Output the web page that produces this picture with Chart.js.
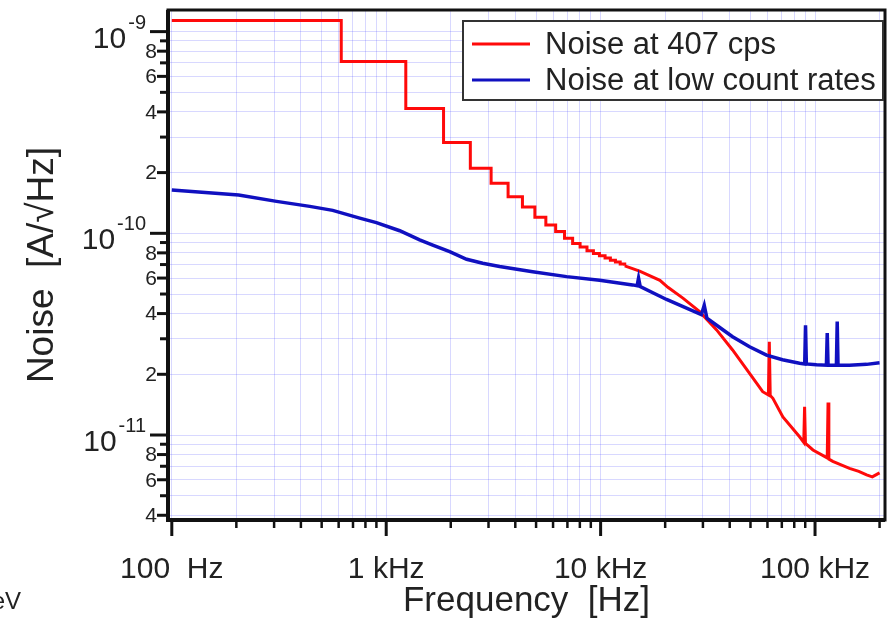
<!DOCTYPE html>
<html>
<head>
<meta charset="utf-8">
<script src="https://cdn.jsdelivr.net/npm/chart.js@4"></script>
<style>
  html, body { margin: 0; padding: 0; background: #fff; }
  canvas { display: block; }
</style>
</head>
<body>
<canvas id="noiseChart" width="890" height="618"></canvas>
<script>
// red: staircase part (bin start frequency, Hz) and noise in A/sqrt(Hz)
const redStepFreq = [100, 617, 1234, 1851, 2468, 3085, 3702, 4319, 4936, 5553, 6170,
  6787, 7404, 8021, 8638, 9255, 9872, 10489, 11106, 11723, 12340, 12957];
const redStepNoise = [1.135e-9, 7.1e-10, 4.16e-10, 2.82e-10, 2.10e-10, 1.77e-10, 1.52e-10,
  1.35e-10, 1.20e-10, 1.10e-10, 1.02e-10, 9.45e-11, 8.9e-11, 8.55e-11, 8.2e-11, 7.95e-11,
  7.75e-11, 7.55e-11, 7.35e-11, 7.2e-11, 7.05e-11, 6.9e-11];

// red: continuous high-frequency part
const redTailFreq = [12957, 15200, 18900, 20600, 24200, 28960, 34750, 41250, 49500, 57000,
  60600, 61200, 61800, 63600, 70800, 84700, 88600, 89400, 90200, 97800, 114000, 115000,
  116000, 121000, 144800, 160000, 174000, 185000, 195000, 200000];
const redTailNoise = [6.9e-11, 6.5e-11, 5.85e-11, 5.4e-11, 4.77e-11, 4.09e-11, 3.32e-11,
  2.64e-11, 2.02e-11, 1.64e-11, 1.58e-11, 2.9e-11, 1.57e-11, 1.52e-11, 1.23e-11, 9.8e-12,
  9.2e-12, 1.38e-11, 9.1e-12, 8.43e-12, 7.7e-12, 1.45e-11, 7.6e-12, 7.4e-12, 6.83e-12,
  6.6e-12, 6.34e-12, 6.2e-12, 6.4e-12, 6.49e-12];

// blue: low count rates
const blueFreq = [100, 205, 308, 440, 563, 752, 900, 1156, 1432, 1648, 1977, 2371, 2818,
  3380, 4820, 6940, 9890, 14090, 14800, 15030, 15300, 20300, 29500, 30430, 31300, 34750,
  41250, 49500, 59400, 70500, 84700, 89500, 90300, 91100, 101600, 113000, 114000, 115000,
  125800, 126900, 128000, 144800, 174000, 200000];
const blueNoise = [1.64e-10, 1.55e-10, 1.44e-10, 1.36e-10, 1.30e-10, 1.19e-10, 1.13e-10,
  1.03e-10, 9.27e-11, 8.75e-11, 8.12e-11, 7.44e-11, 7.1e-11, 6.85e-11, 6.45e-11, 6.1e-11,
  5.85e-11, 5.55e-11, 5.5e-11, 6.0e-11, 5.45e-11, 4.7e-11, 3.95e-11, 4.4e-11, 3.8e-11,
  3.5e-11, 3.07e-11, 2.74e-11, 2.49e-11, 2.36e-11, 2.27e-11, 2.25e-11, 3.5e-11, 2.25e-11,
  2.23e-11, 2.22e-11, 3.2e-11, 2.22e-11, 2.22e-11, 3.65e-11, 2.22e-11, 2.22e-11, 2.24e-11,
  2.28e-11];

const seriesNames = ['Noise at 407 cps', 'Noise at low count rates'];

// axis labels
const xTickValues = [100, 1000, 10000, 100000];
const xTickLabels = ['100  Hz', '1 kHz', '10 kHz', '100 kHz'];
const yDecadeExps = [-11, -10, -9];
const yMinorLabelDigits = [2, 4, 6, 8];

const X_MIN = 96, X_MAX = 212000;
const Y_MIN = 3.79e-12, Y_MAX = 1.28e-9;

const RED = '#ff0a0a';
const BLUE = '#1010c0';
const FONT = '"Liberation Sans", Arial, Helvetica, sans-serif';

function toPoints(xs, ys) {
  return xs.map((v, i) => ({ x: v, y: ys[i] }));
}

// 1..9 x 10^n inside the range (grid + tick marks)
function logTicks(min, max) {
  const out = [];
  for (let e = Math.floor(Math.log10(min)); e <= Math.ceil(Math.log10(max)); e++) {
    for (let m = 1; m <= 9; m++) {
      const v = m * Math.pow(10, e);
      if (v >= min && v <= max) out.push({ value: v, m: m });
    }
  }
  return out;
}

const framePlugin = {
  id: 'framePlugin',
  afterDraw(chart) {
    const { ctx, chartArea: a, scales: { x, y } } = chart;
    ctx.save();

    // frame
    ctx.strokeStyle = '#111';
    ctx.lineWidth = 3;
    ctx.strokeRect(a.left, a.top, a.right - a.left, a.bottom - a.top);
    ctx.lineWidth = 4;
    ctx.beginPath();
    ctx.moveTo(a.left, a.top);
    ctx.lineTo(a.left, a.bottom);
    ctx.lineTo(a.right, a.bottom);
    ctx.stroke();

    // x tick marks
    x.ticks.forEach(t => {
      const px = x.getPixelForValue(t.value);
      const major = t.m === 1;
      ctx.lineWidth = major ? 3 : 2.5;
      ctx.beginPath();
      ctx.moveTo(px, a.bottom);
      ctx.lineTo(px, a.bottom + (major ? 16 : 8));
      ctx.stroke();
    });

    // y tick marks
    y.ticks.forEach(t => {
      const py = y.getPixelForValue(t.value);
      let len = 8;
      if (t.m === 1) len = 18;
      else if (yMinorLabelDigits.includes(t.m)) len = 11;
      ctx.lineWidth = 3;
      ctx.beginPath();
      ctx.moveTo(a.left, py);
      ctx.lineTo(a.left - len, py);
      ctx.stroke();
    });

    ctx.fillStyle = '#222';

    // x labels
    ctx.font = '30px ' + FONT;
    ctx.textAlign = 'center';
    ctx.textBaseline = 'alphabetic';
    xTickValues.forEach((v, i) => {
      ctx.fillText(xTickLabels[i], x.getPixelForValue(v), 578);
    });

    // y decade labels with superscript
    yDecadeExps.forEach(e => {
      const py = y.getPixelForValue(Math.pow(10, e));
      const sup = String(e);
      ctx.font = '20px ' + FONT;
      const supW = ctx.measureText(sup).width;
      ctx.textAlign = 'right';
      ctx.fillText(sup, 146, py - 3);
      ctx.font = '30px ' + FONT;
      ctx.fillText('10', 146 - supW - 2, py + 16);
    });

    // y minor labels
    ctx.font = '21px ' + FONT;
    ctx.textAlign = 'right';
    ctx.textBaseline = 'middle';
    y.ticks.forEach(t => {
      if (yMinorLabelDigits.includes(t.m)) {
        ctx.fillText(String(t.m), 157, y.getPixelForValue(t.value) + 1);
      }
    });

    // axis titles
    ctx.textAlign = 'center';
    ctx.textBaseline = 'alphabetic';
    ctx.font = '35px ' + FONT;
    ctx.fillText('Frequency  [Hz]', (a.left + a.right) / 2, 611);
    ctx.save();
    ctx.translate(53, (a.top + a.bottom) / 2);
    ctx.rotate(-Math.PI / 2);
    ctx.font = '37px ' + FONT;
    ctx.fillText('Noise  [A/\u221AHz]', 0, 0);
    ctx.restore();

    // stray text at bottom left
    ctx.font = '24px ' + FONT;
    ctx.textAlign = 'right';
    ctx.fillText('eV', 21, 609);

    // legend box
    const lx = 463, ly = 21, lw = 420, lh = 79;
    ctx.fillStyle = '#fff';
    ctx.fillRect(lx, ly, lw, lh);
    ctx.strokeStyle = '#333';
    ctx.lineWidth = 2;
    ctx.strokeRect(lx, ly, lw, lh);
    [RED, BLUE].forEach((c, i) => {
      const yy = 44 + i * 36;
      ctx.strokeStyle = c;
      ctx.lineWidth = 3;
      ctx.beginPath();
      ctx.moveTo(472, yy);
      ctx.lineTo(530, yy);
      ctx.stroke();
      ctx.fillStyle = '#222';
      ctx.font = '31px ' + FONT;
      ctx.textAlign = 'left';
      ctx.textBaseline = 'middle';
      ctx.fillText(seriesNames[i], 545, yy + 1);
    });

    ctx.restore();
  }
};

const gridColor = 'rgba(60, 60, 255, 0.2)';

new Chart(document.getElementById('noiseChart'), {
  type: 'line',
  data: {
    datasets: [
      {
        label: seriesNames[1],
        data: toPoints(blueFreq, blueNoise),
        borderColor: BLUE,
        borderWidth: 3.5,
        pointRadius: 0,
        order: 0
      },
      {
        label: seriesNames[0],
        data: toPoints(redStepFreq, redStepNoise),
        borderColor: RED,
        borderWidth: 3,
        pointRadius: 0,
        stepped: 'before',
        order: 1
      },
      {
        label: seriesNames[0],
        data: toPoints(redTailFreq, redTailNoise),
        borderColor: RED,
        borderWidth: 3,
        pointRadius: 0,
        order: 1
      }
    ]
  },
  options: {
    responsive: false,
    devicePixelRatio: 1,
    animation: false,
    layout: { padding: { left: 168, right: 5, top: 10, bottom: 98 } },
    plugins: {
      legend: { display: false },
      tooltip: { enabled: false }
    },
    scales: {
      x: {
        type: 'logarithmic',
        min: X_MIN,
        max: X_MAX,
        afterBuildTicks: (scale) => { scale.ticks = logTicks(X_MIN, X_MAX); },
        ticks: { display: false },
        grid: { color: gridColor, lineWidth: 1, drawTicks: false },
        border: { display: false }
      },
      y: {
        type: 'logarithmic',
        min: Y_MIN,
        max: Y_MAX,
        afterBuildTicks: (scale) => { scale.ticks = logTicks(Y_MIN, Y_MAX); },
        ticks: { display: false },
        grid: { color: gridColor, lineWidth: 1, drawTicks: false },
        border: { display: false }
      }
    }
  },
  plugins: [framePlugin]
});
</script>
</body>
</html>
